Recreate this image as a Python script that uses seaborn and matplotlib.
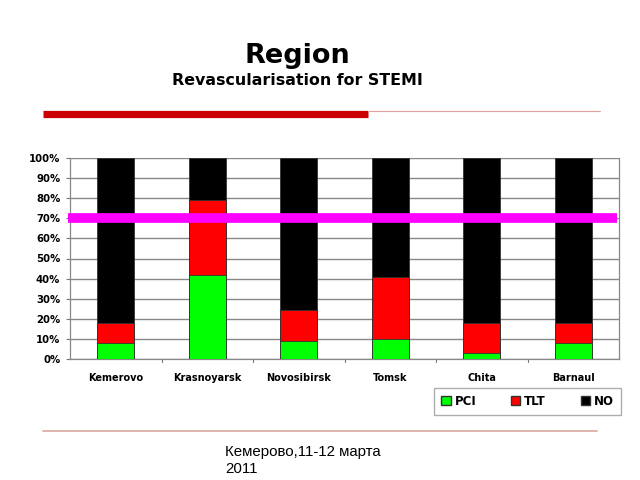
import matplotlib
matplotlib.use("Agg")
import matplotlib.pyplot as plt
from matplotlib.lines import Line2D
from matplotlib.patches import Patch
import seaborn as sns
import pandas as pd
import numpy as np

regions = ["Kemerovo", "Krasnoyarsk", "Novosibirsk", "Tomsk", "Chita", "Barnaul"]
pci = [8, 42, 9, 10, 3, 8]
tlt = [10, 37, 15.5, 31, 15, 10]
no = [82, 21, 75.5, 59, 82, 82]
yticks = [0, 10, 20, 30, 40, 50, 60, 70, 80, 90, 100]
target = 70

sns.set_theme(style="white")
plt.rcParams['font.family'] = ['DejaVu Sans']
plt.rcParams['text.color'] = 'black'
plt.rcParams['xtick.color'] = 'black'
plt.rcParams['ytick.color'] = 'black'
plt.rcParams['axes.labelcolor'] = 'black'

df = pd.DataFrame({"region": regions, "PCI": pci, "TLT": tlt, "NO": no})
df["c2"] = df["PCI"] + df["TLT"]
df["c3"] = df["c2"] + df["NO"]

fig = plt.figure(figsize=(6.4, 4.8), dpi=100)
ax = fig.add_axes([70/640, 1-359/480, (619-70)/640, (359-158)/480])

for col, color in [("c3", "#000000"), ("c2", "#ff0000"), ("PCI", "#00ff00")]:
    sns.barplot(data=df, x="region", y=col, color=color, width=0.4,
                edgecolor="#333333", linewidth=0.6, ax=ax, zorder=3, saturation=1)

ax.set_ylim(0, 100)
ax.set_xlim(-0.5, len(regions) - 0.5)
ax.set_yticks(yticks)
ax.set_yticklabels([f"{t}%" for t in yticks], fontsize=7.3, fontweight="bold")
ax.set_xticks(range(len(regions)))
ax.set_xticklabels(regions, fontsize=7, fontweight="bold")
ax.tick_params(axis="x", length=0, pad=10)
ax.tick_params(axis="y", length=3, width=0.8, color="#777777", pad=4, left=True)
for b in np.arange(0.5, len(regions) - 0.5, 1.0):
    ax.plot([b, b], [0, -1.5], color="#777777", lw=0.8, clip_on=False)
ax.set_xlabel("")
ax.set_ylabel("")
ax.yaxis.grid(True, color="#888888", linewidth=1.0, zorder=0)
ax.set_axisbelow(True)
for s in ["left", "right", "bottom"]:
    ax.spines[s].set_visible(True)
    ax.spines[s].set_color("#888888")
    ax.spines[s].set_linewidth(0.9)
ax.spines["top"].set_visible(False)

ax.plot([-0.52, 5.48], [target, target], color="#ff00ff", lw=7, zorder=5,
        solid_capstyle="butt", clip_on=False)

handles = [Patch(facecolor="#00ff00", edgecolor="#333333", label="PCI"),
           Patch(facecolor="#ff0000", edgecolor="#333333", label="TLT"),
           Patch(facecolor="#000000", edgecolor="#333333", label="NO")]
leg = fig.legend(handles=handles, ncol=3, loc="center",
                 bbox_to_anchor=(527.5/640, 1-401.5/480), frameon=True, fancybox=False,
                 prop={"size": 8.5, "weight": "bold"}, handlelength=0.8, handleheight=0.8,
                 handletextpad=0.3, columnspacing=2.95, borderpad=0.6)
leg.get_frame().set_edgecolor("#999999")
leg.get_frame().set_linewidth(1.0)

fig.text(297/640, 1-63/480, "Region", ha="center", va="baseline",
         fontsize=19.5, fontweight="bold")
fig.text(297.5/640, 1-85/480, "Revascularisation for STEMI", ha="center", va="baseline",
         fontsize=11.4, fontweight="bold")

fig.add_artist(Line2D([43/640, 368/640], [1-113.5/480, 1-113.5/480], color="#cc0000", lw=5.2,
                      solid_capstyle="butt"))
fig.add_artist(Line2D([368/640, 600/640], [1-110.5/480, 1-110.5/480], color="#e0a0a0", lw=0.8))
fig.add_artist(Line2D([43/640, 597/640], [1-431/480, 1-431/480], color="#d8a8a0", lw=1.2))

fig.text(225/640, 1-456/480, "Кемерово,11-12 марта", ha="left", va="baseline",
         fontsize=10.8, family=["Liberation Sans", "DejaVu Sans"])
fig.text(225/640, 1-473/480, "2011", ha="left", va="baseline",
         fontsize=10.8, family=["Liberation Sans", "DejaVu Sans"])

fig.savefig("out.png", dpi=100)
